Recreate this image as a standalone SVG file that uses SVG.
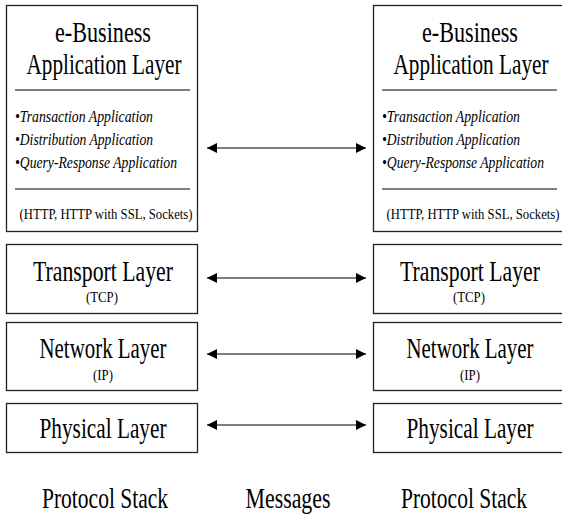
<svg xmlns="http://www.w3.org/2000/svg" width="562" height="515" viewBox="0 0 562 515">
<style>
.box{fill:#fff;stroke:#222;stroke-width:1.3}
.sep{stroke:#000;stroke-width:1.2}
.c{text-anchor:middle}
.conn{stroke:#000;stroke-width:1.2;fill:none}
</style>
<defs>
<marker id="ah" viewBox="0 0 10 10" markerWidth="10" markerHeight="10" refX="10" refY="5" orient="auto-start-reverse" markerUnits="userSpaceOnUse">
<path d="M0,0 L10,5 L0,10 z" fill="#000"/>
</marker>
</defs>
<g id="app-left">
<rect class="box" x="6.5" y="5.5" width="191" height="226"/>
<text class="c" font-family="Liberation Serif" font-size="29" x="103" y="42" textLength="96" lengthAdjust="spacingAndGlyphs">e-Business</text>
<text class="c" font-family="Liberation Serif" font-size="29" x="104" y="74" textLength="155" lengthAdjust="spacingAndGlyphs">Application Layer</text>
<line class="sep" x1="15" y1="90" x2="190" y2="90"/>
<text font-family="Liberation Serif" font-size="16" font-style="italic" x="15" y="122" textLength="138" lengthAdjust="spacingAndGlyphs">•Transaction Application</text>
<text font-family="Liberation Serif" font-size="16" font-style="italic" x="15" y="145" textLength="138" lengthAdjust="spacingAndGlyphs">•Distribution Application</text>
<text font-family="Liberation Serif" font-size="16" font-style="italic" x="15" y="168" textLength="162" lengthAdjust="spacingAndGlyphs">•Query-Response Application</text>
<line class="sep" x1="15" y1="189" x2="190" y2="189"/>
<text class="c" font-family="Liberation Serif" font-size="15" x="106" y="219" textLength="173" lengthAdjust="spacingAndGlyphs">(HTTP, HTTP with SSL, Sockets)</text>
</g>
<g id="transport-left">
<rect class="box" x="6.5" y="244.5" width="191" height="69"/>
<text class="c" font-family="Liberation Serif" font-size="29" x="103" y="281" textLength="140" lengthAdjust="spacingAndGlyphs">Transport Layer</text>
<text class="c" font-family="Liberation Serif" font-size="15" x="102" y="302" textLength="32" lengthAdjust="spacingAndGlyphs">(TCP)</text>
</g>
<g id="network-left">
<rect class="box" x="6.5" y="322.5" width="191" height="68"/>
<text class="c" font-family="Liberation Serif" font-size="29" x="103" y="358" textLength="127" lengthAdjust="spacingAndGlyphs">Network Layer</text>
<text class="c" font-family="Liberation Serif" font-size="15" x="103" y="380" textLength="20" lengthAdjust="spacingAndGlyphs">(IP)</text>
</g>
<g id="physical-left">
<rect class="box" x="6.5" y="403.5" width="191" height="49"/>
<text class="c" font-family="Liberation Serif" font-size="29" x="103" y="438" textLength="127" lengthAdjust="spacingAndGlyphs">Physical Layer</text>
</g>
<g id="app-right">
<rect class="box" x="373.5" y="5.5" width="191" height="226"/>
<text class="c" font-family="Liberation Serif" font-size="29" x="470" y="42" textLength="96" lengthAdjust="spacingAndGlyphs">e-Business</text>
<text class="c" font-family="Liberation Serif" font-size="29" x="471" y="74" textLength="155" lengthAdjust="spacingAndGlyphs">Application Layer</text>
<line class="sep" x1="382" y1="90" x2="557" y2="90"/>
<text font-family="Liberation Serif" font-size="16" font-style="italic" x="382" y="122" textLength="138" lengthAdjust="spacingAndGlyphs">•Transaction Application</text>
<text font-family="Liberation Serif" font-size="16" font-style="italic" x="382" y="145" textLength="138" lengthAdjust="spacingAndGlyphs">•Distribution Application</text>
<text font-family="Liberation Serif" font-size="16" font-style="italic" x="382" y="168" textLength="162" lengthAdjust="spacingAndGlyphs">•Query-Response Application</text>
<line class="sep" x1="382" y1="189" x2="557" y2="189"/>
<text class="c" font-family="Liberation Serif" font-size="15" x="473" y="219" textLength="173" lengthAdjust="spacingAndGlyphs">(HTTP, HTTP with SSL, Sockets)</text>
</g>
<g id="transport-right">
<rect class="box" x="373.5" y="244.5" width="191" height="69"/>
<text class="c" font-family="Liberation Serif" font-size="29" x="470" y="281" textLength="140" lengthAdjust="spacingAndGlyphs">Transport Layer</text>
<text class="c" font-family="Liberation Serif" font-size="15" x="469" y="302" textLength="32" lengthAdjust="spacingAndGlyphs">(TCP)</text>
</g>
<g id="network-right">
<rect class="box" x="373.5" y="322.5" width="191" height="68"/>
<text class="c" font-family="Liberation Serif" font-size="29" x="470" y="358" textLength="127" lengthAdjust="spacingAndGlyphs">Network Layer</text>
<text class="c" font-family="Liberation Serif" font-size="15" x="470" y="380" textLength="20" lengthAdjust="spacingAndGlyphs">(IP)</text>
</g>
<g id="physical-right">
<rect class="box" x="373.5" y="403.5" width="191" height="49"/>
<text class="c" font-family="Liberation Serif" font-size="29" x="470" y="438" textLength="127" lengthAdjust="spacingAndGlyphs">Physical Layer</text>
</g>
<g id="connectors">
<line class="conn" x1="207" y1="148" x2="366" y2="148" marker-start="url(#ah)" marker-end="url(#ah)"/>
<line class="conn" x1="207" y1="278" x2="366" y2="278" marker-start="url(#ah)" marker-end="url(#ah)"/>
<line class="conn" x1="207" y1="354" x2="366" y2="354" marker-start="url(#ah)" marker-end="url(#ah)"/>
<line class="conn" x1="207" y1="425" x2="366" y2="425" marker-start="url(#ah)" marker-end="url(#ah)"/>
</g>
<g id="labels">
<text class="c" font-family="Liberation Serif" font-size="29" x="105" y="508" textLength="126" lengthAdjust="spacingAndGlyphs">Protocol Stack</text>
<text class="c" font-family="Liberation Serif" font-size="29" x="288" y="508" textLength="85" lengthAdjust="spacingAndGlyphs">Messages</text>
<text class="c" font-family="Liberation Serif" font-size="29" x="464" y="508" textLength="126" lengthAdjust="spacingAndGlyphs">Protocol Stack</text>
</g>
</svg>
